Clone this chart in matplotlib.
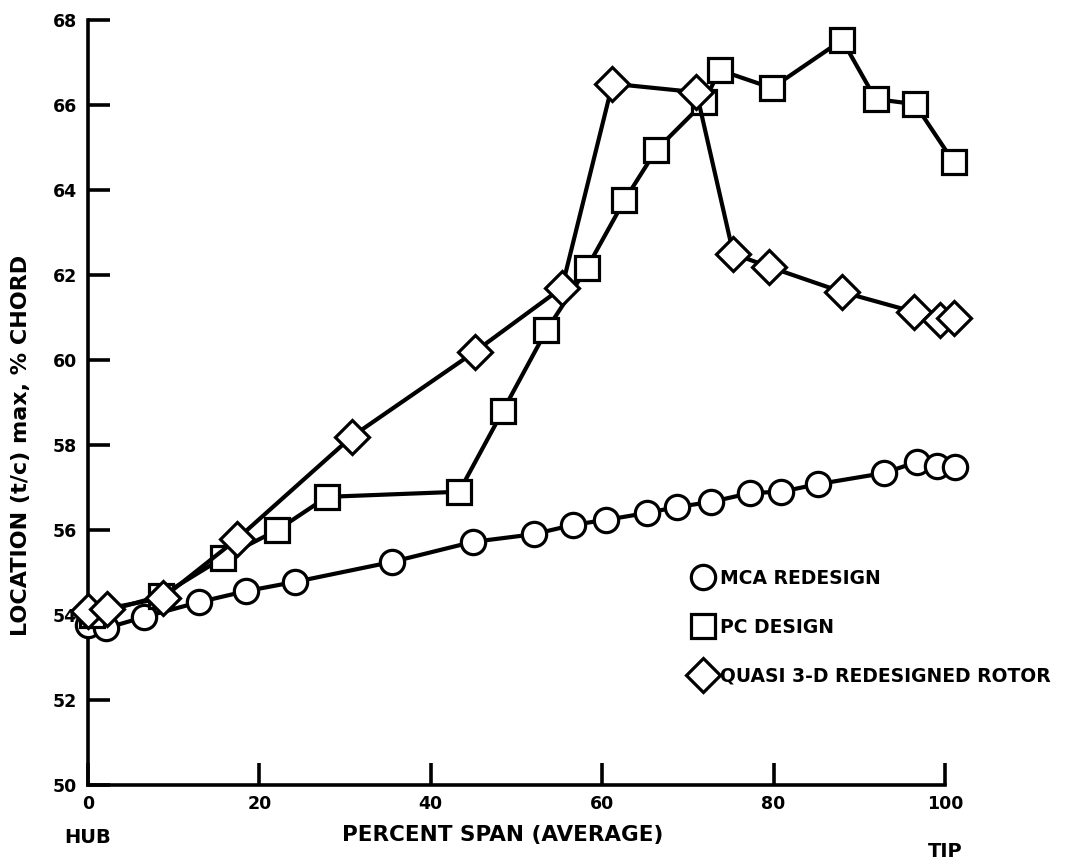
import matplotlib
matplotlib.use('Agg')
import matplotlib.pyplot as plt

plt.rcParams['font.family'] = ['DejaVu Sans']
plt.rcParams['font.weight'] = 'bold'

# MCA redesign (circles)
mca_x = [0, 2.1, 6.5, 12.9, 18.4, 24.2, 35.5, 44.9, 52.0, 56.6, 60.5, 65.2, 68.7,
         72.7, 77.3, 80.9, 85.2, 92.9, 96.7, 99.1, 101.2]
mca_y = [53.76, 53.69, 53.95, 54.3, 54.56, 54.78, 55.25, 55.72, 55.9, 56.12, 56.24,
         56.4, 56.54, 56.66, 56.87, 56.9, 57.08, 57.34, 57.6, 57.5, 57.48]

# PC design (squares)
pc_x = [0.5, 8.5, 15.7, 22.1, 27.9, 43.3, 48.4, 53.5, 58.2, 62.6, 66.3, 71.9, 73.7,
        79.8, 88.0, 91.9, 96.5, 101.0]
pc_y = [54.0, 54.45, 55.34, 56.0, 56.78, 56.9, 58.8, 60.7, 62.16, 63.76, 64.94,
        66.07, 66.82, 66.4, 67.53, 66.14, 66.02, 64.66]

# Quasi 3-D redesigned rotor (diamonds)
q_x = [0, 2.2, 8.7, 17.4, 30.8, 45.1, 55.3, 61.2, 71.0, 75.3, 79.5, 88.0, 96.4, 99.4, 101.0]
q_y = [54.1, 54.15, 54.4, 55.79, 58.2, 60.19, 61.7, 66.5, 66.3, 62.5, 62.19, 61.6,
       61.13, 60.94, 61.0]

x_ticks = [0, 20, 40, 60, 80, 100]
y_ticks = [50, 52, 54, 56, 58, 60, 62, 64, 66, 68]

labels = ['MCA REDESIGN', 'PC DESIGN', 'QUASI 3-D REDESIGNED ROTOR']

fig = plt.figure(figsize=(10.7, 8.65), dpi=100)
ax = fig.add_axes([88 / 1070, 80 / 865, (945 - 88) / 1070, 765 / 865])

lw = 3.0
mew = 2.3
common = dict(color='black', lw=lw, mfc='white', mec='black', mew=mew, clip_on=False)
h1, = ax.plot(mca_x, mca_y, marker='o', ms=17.5, zorder=3, **common)
h2, = ax.plot(pc_x, pc_y, marker='s', ms=17, zorder=4, **common)
h3, = ax.plot(q_x, q_y, marker='D', ms=17, zorder=5, **common)

ax.set_xlim(0, 100)
ax.set_ylim(50, 68)
for s in ['top', 'right']:
    ax.spines[s].set_visible(False)
for s in ['left', 'bottom']:
    ax.spines[s].set_linewidth(2.6)

ax.set_xticks(x_ticks)
ax.set_yticks(y_ticks)
ax.tick_params(axis='y', direction='in', length=16, width=2.6, pad=8, labelsize=12.5)
ax.tick_params(axis='x', direction='in', length=16, width=2.6, pad=7, labelsize=12.5)
for t in ax.get_xticklabels() + ax.get_yticklabels():
    t.set_fontweight('bold')

ax.set_xlabel('PERCENT SPAN (AVERAGE)', fontsize=15.5, fontweight='bold')
ax.xaxis.set_label_coords(0.484, -0.052)
ax.set_ylabel('LOCATION (t/c) max, % CHORD', fontsize=16, fontweight='bold')
ax.yaxis.set_label_coords(-0.066, 0.444)

ax.text(0, -0.068, 'HUB', transform=ax.transAxes, ha='center', va='center',
        fontsize=14, fontweight='bold')
ax.text(1.0, -0.087, 'TIP', transform=ax.transAxes, ha='center', va='center',
        fontsize=14, fontweight='bold')

leg = ax.legend([h1, h2, h3], labels, loc='upper left', bbox_to_anchor=(0.698, 0.305),
                frameon=False, handlelength=0, handletextpad=0.9, labelspacing=1.6,
                prop={'weight': 'bold', 'size': 13.5}, markerscale=1.0)
for h in leg.legend_handles:
    h.set_linestyle('none')

fig.savefig('out.png', dpi=100)
